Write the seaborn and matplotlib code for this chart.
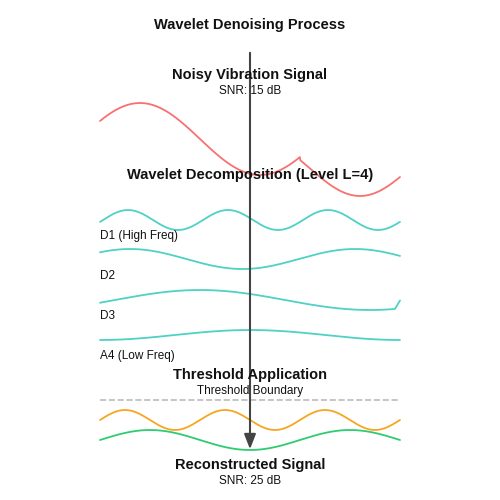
import numpy as np
import matplotlib
matplotlib.use("Agg")
import matplotlib.pyplot as plt
import seaborn as sns

sns.set_style("white")
plt.rcParams['font.family'] = ['Liberation Sans', 'DejaVu Sans']

noisy_color = "#f87171"
d_colors = "#4fd1c5"
orange = "#f5a623"
green = "#2ecc71"

x = np.linspace(100, 400, 600)
def wave(c, a, p, peak):
    return c - a * np.cos(2 * np.pi * (x - peak) / p)

# noisy signal: two smooth pieces with a spike at x=300
red = np.where(x <= 300,
               139 - 36 * np.cos(2 * np.pi * (x - 140) / 240),
               168.5 + 27.5 * np.cos(2 * np.pi * (x - 360) / 200))

d1 = wave(220, 10, 100, 128)
d2 = wave(259, 10, 225, 130)
d3 = wave(300, 10, 340, 200)
d3[x > 395] -= (x[x > 395] - 395) * 1.6
a4 = wave(335, 5, 300, 250)
thr = wave(420, 10, 100, 125)
rec = wave(440, 10, 200, 150)

fig = plt.figure(figsize=(5, 5), dpi=100)
ax = fig.add_axes([0, 0, 1, 1])
ax.set_xlim(0, 500); ax.set_ylim(500, 0); ax.axis("off")

for y, c in [(red, noisy_color), (d1, d_colors), (d2, d_colors), (d3, d_colors),
             (a4, d_colors), (thr, orange), (rec, green)]:
    sns.lineplot(x=x, y=y, color=c, lw=1.3, ax=ax, sort=False)

ax.plot([100, 400], [400, 400], ls="--", color="#bbbbbb", lw=1.2)
ax.annotate("", xy=(250, 452), xytext=(250, 50),
            arrowprops=dict(arrowstyle="-|>,head_width=0.35,head_length=0.9", color="#444444", lw=1.5))

def t(xx, yy, s, bold=False, size=8.5, ha="center"):
    ax.text(xx, yy, s, ha=ha, va="center", fontsize=size, fontweight="bold" if bold else "normal", color="#111111")

t(250, 25, "Wavelet Denoising Process", True, 10.5)
t(250, 75, "Noisy Vibration Signal", True, 10.5)
t(250, 91, "SNR: 15 dB")
t(250, 175, "Wavelet Decomposition (Level L=4)", True, 10.5)
t(100, 236, "D1 (High Freq)", ha="left")
t(100, 276, "D2", ha="left")
t(100, 316, "D3", ha="left")
t(100, 356, "A4 (Low Freq)", ha="left")
t(250, 375, "Threshold Application", True, 10.5)
t(250, 391, "Threshold Boundary")
t(250, 465, "Reconstructed Signal", True, 10.5)
t(250, 481, "SNR: 25 dB")

fig.savefig("out.png", dpi=100)
